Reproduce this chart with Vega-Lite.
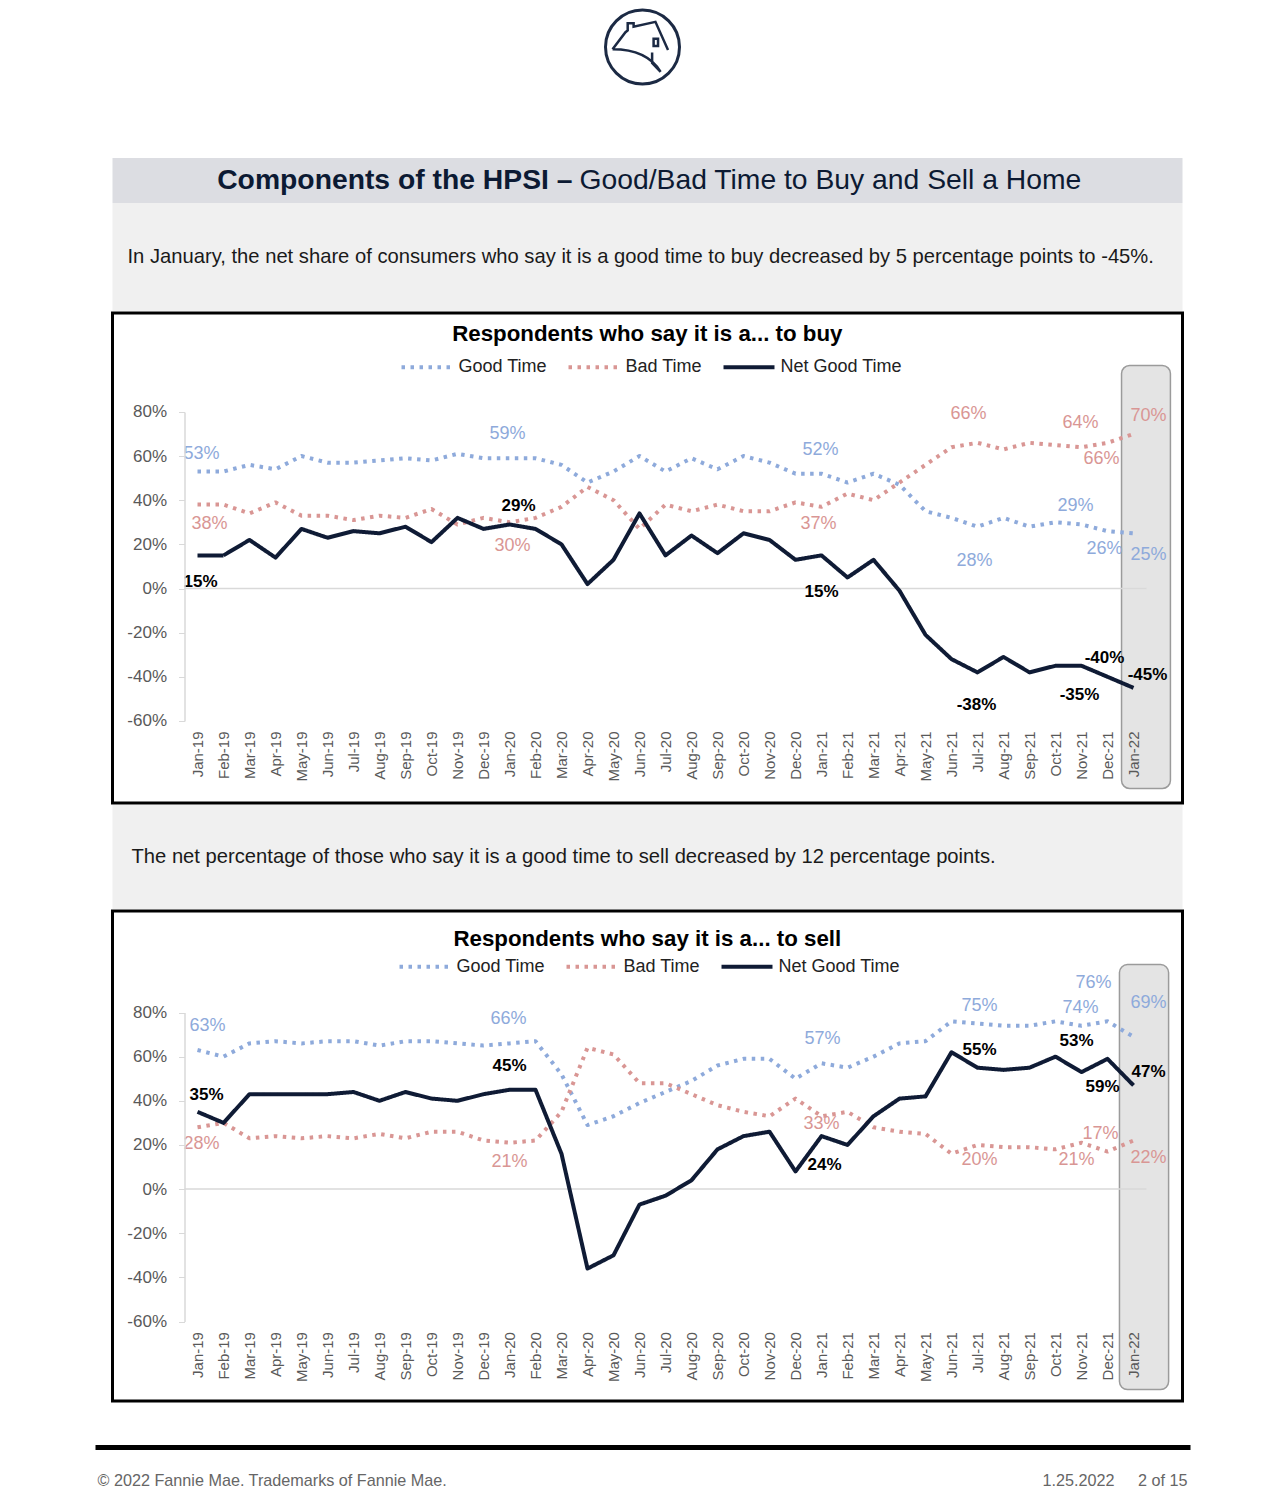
{
"$schema":"https://vega.github.io/schema/vega-lite/v6.json",
"background":"#ffffff",
"padding":{"left":92.5,"right":91.5,"top":0,"bottom":0},
"spacing":0,
"resolve":{"scale":{"color":"independent","strokeDash":"independent"},"legend":{"color":"independent","strokeDash":"independent"}},
"config":{"font":"Liberation Sans","view":{"stroke":null},"text":{"font":"Liberation Sans"},"axis":{"labelOverlap":false}},
"datasets":{
"buy":[
{"month":"Jan-19","i":0,"good":53,"bad":38,"net":15},
{"month":"Feb-19","i":1,"good":53,"bad":38,"net":15},
{"month":"Mar-19","i":2,"good":56,"bad":34,"net":22},
{"month":"Apr-19","i":3,"good":54,"bad":39,"net":14},
{"month":"May-19","i":4,"good":60,"bad":33,"net":27},
{"month":"Jun-19","i":5,"good":57,"bad":33,"net":23},
{"month":"Jul-19","i":6,"good":57,"bad":31,"net":26},
{"month":"Aug-19","i":7,"good":58,"bad":33,"net":25},
{"month":"Sep-19","i":8,"good":59,"bad":32,"net":28},
{"month":"Oct-19","i":9,"good":58,"bad":36,"net":21},
{"month":"Nov-19","i":10,"good":61,"bad":29,"net":32},
{"month":"Dec-19","i":11,"good":59,"bad":32,"net":27},
{"month":"Jan-20","i":12,"good":59,"bad":30,"net":29},
{"month":"Feb-20","i":13,"good":59,"bad":32,"net":27},
{"month":"Mar-20","i":14,"good":56,"bad":37,"net":20},
{"month":"Apr-20","i":15,"good":48,"bad":46,"net":2},
{"month":"May-20","i":16,"good":53,"bad":40,"net":13},
{"month":"Jun-20","i":17,"good":60,"bad":27,"net":34},
{"month":"Jul-20","i":18,"good":53,"bad":38,"net":15},
{"month":"Aug-20","i":19,"good":59,"bad":35,"net":24},
{"month":"Sep-20","i":20,"good":54,"bad":38,"net":16},
{"month":"Oct-20","i":21,"good":60,"bad":35,"net":25},
{"month":"Nov-20","i":22,"good":57,"bad":35,"net":22},
{"month":"Dec-20","i":23,"good":52,"bad":39,"net":13},
{"month":"Jan-21","i":24,"good":52,"bad":37,"net":15},
{"month":"Feb-21","i":25,"good":48,"bad":43,"net":5},
{"month":"Mar-21","i":26,"good":52,"bad":40,"net":13},
{"month":"Apr-21","i":27,"good":47,"bad":48,"net":-1},
{"month":"May-21","i":28,"good":35,"bad":56,"net":-21},
{"month":"Jun-21","i":29,"good":32,"bad":64,"net":-32},
{"month":"Jul-21","i":30,"good":28,"bad":66,"net":-38},
{"month":"Aug-21","i":31,"good":32,"bad":63,"net":-31},
{"month":"Sep-21","i":32,"good":28,"bad":66,"net":-38},
{"month":"Oct-21","i":33,"good":30,"bad":65,"net":-35},
{"month":"Nov-21","i":34,"good":29,"bad":64,"net":-35},
{"month":"Dec-21","i":35,"good":26,"bad":66,"net":-40},
{"month":"Jan-22","i":36,"good":25,"bad":70,"net":-45}
],
"sell":[
{"month":"Jan-19","i":0,"good":63,"bad":28,"net":35},
{"month":"Feb-19","i":1,"good":60,"bad":30,"net":30},
{"month":"Mar-19","i":2,"good":66,"bad":23,"net":43},
{"month":"Apr-19","i":3,"good":67,"bad":24,"net":43},
{"month":"May-19","i":4,"good":66,"bad":23,"net":43},
{"month":"Jun-19","i":5,"good":67,"bad":24,"net":43},
{"month":"Jul-19","i":6,"good":67,"bad":23,"net":44},
{"month":"Aug-19","i":7,"good":65,"bad":25,"net":40},
{"month":"Sep-19","i":8,"good":67,"bad":23,"net":44},
{"month":"Oct-19","i":9,"good":67,"bad":26,"net":41},
{"month":"Nov-19","i":10,"good":66,"bad":26,"net":40},
{"month":"Dec-19","i":11,"good":65,"bad":22,"net":43},
{"month":"Jan-20","i":12,"good":66,"bad":21,"net":45},
{"month":"Feb-20","i":13,"good":67,"bad":22,"net":45},
{"month":"Mar-20","i":14,"good":52,"bad":35,"net":16},
{"month":"Apr-20","i":15,"good":29,"bad":64,"net":-36},
{"month":"May-20","i":16,"good":33,"bad":61,"net":-30},
{"month":"Jun-20","i":17,"good":39,"bad":48,"net":-7},
{"month":"Jul-20","i":18,"good":44,"bad":48,"net":-3},
{"month":"Aug-20","i":19,"good":49,"bad":43,"net":4},
{"month":"Sep-20","i":20,"good":56,"bad":38,"net":18},
{"month":"Oct-20","i":21,"good":59,"bad":35,"net":24},
{"month":"Nov-20","i":22,"good":59,"bad":33,"net":26},
{"month":"Dec-20","i":23,"good":50,"bad":41,"net":8},
{"month":"Jan-21","i":24,"good":57,"bad":33,"net":24},
{"month":"Feb-21","i":25,"good":55,"bad":35,"net":20},
{"month":"Mar-21","i":26,"good":60,"bad":28,"net":33},
{"month":"Apr-21","i":27,"good":66,"bad":26,"net":41},
{"month":"May-21","i":28,"good":67,"bad":25,"net":42},
{"month":"Jun-21","i":29,"good":76,"bad":16,"net":62},
{"month":"Jul-21","i":30,"good":75,"bad":20,"net":55},
{"month":"Aug-21","i":31,"good":74,"bad":19,"net":54},
{"month":"Sep-21","i":32,"good":74,"bad":19,"net":55},
{"month":"Oct-21","i":33,"good":76,"bad":18,"net":60},
{"month":"Nov-21","i":34,"good":74,"bad":21,"net":53},
{"month":"Dec-21","i":35,"good":76,"bad":17,"net":59},
{"month":"Jan-22","i":36,"good":69,"bad":22,"net":47}
]
},
"vconcat":[
{
"width":1070,"height":158,
"data":{"values":[{}]},
"encoding":{
"x":{"datum":530,"type":"quantitative","scale":{"domain":[0,1070],"range":[0,1070],"nice":false,"zero":false},"axis":null},
"y":{"datum":111,"type":"quantitative","scale":{"domain":[0,158],"nice":false,"zero":false},"axis":null}
},
"layer":[
{"mark":{"type":"point","shape":"circle","size":5476,"filled":false,"stroke":"#1c2a44","strokeWidth":3,"opacity":1}},
{"mark":{"type":"point","shape":"M-0.81,0.06L-0.46,-0.4L-0.4,-0.45L-0.4,-0.64L-0.24,-0.64L-0.24,-0.55L0.35,-0.68L0.69,0.08M-0.81,0.06Q0.12,0.06 0.49,0.67M0.26,0.15L0.26,0.43L0.49,0.67M0.3,-0.22L0.42,-0.22L0.42,-0.03L0.3,-0.03Z","size":5476,"filled":false,"stroke":"#1c2a44","strokeWidth":2.5,"opacity":1}}
]
},
{
"width":1070,"height":45,
"view":{"fill":"#dcdde2","stroke":null},
"data":{"values":[{}]},
"layer":[
{"mark":{"type":"text","text":"Components of the HPSI –","align":"right","dx":-75,"fontSize":28.3,"fontWeight":"bold","color":"#0c1a33"},"encoding":{}},
{"mark":{"type":"text","text":"Good/Bad Time to Buy and Sell a Home","align":"left","dx":-68,"fontSize":28.3,"fontWeight":"normal","color":"#0c1a33"},"encoding":{}}
]
},
{
"width":1070,"height":108,
"view":{"fill":"#f0f0f0","stroke":null},
"data":{"values":[{}]},
"mark":{"type":"text","text":"In January, the net share of consumers who say it is a good time to buy decreased by 5 percentage points to -45%.","align":"left","dx":-520,"fontSize":20.2,"color":"#1a1a1a"},
"encoding":{}
},
{
"width":1070,"height":490,
"view":{"fill":"#ffffff","stroke":"#000000","strokeWidth":3},
"layer":[
{"data":{"values":[{}]},"mark":{"type":"rect","fill":"#e4e4e4","stroke":"#9b9b9b","strokeWidth":1.5,"cornerRadius":8},
"encoding":{
"x":{"datum":35.54,"type":"quantitative","scale":{"domain":[-0.5,36.5],"range":[72,1034],"nice":false,"zero":false},
"axis":{"values":[0,1,2,3,4,5,6,7,8,9,10,11,12,13,14,15,16,17,18,19,20,21,22,23,24,25,26,27,28,29,30,31,32,33,34,35,36],"tickCount":37,"labelExpr":"['Jan','Feb','Mar','Apr','May','Jun','Jul','Aug','Sep','Oct','Nov','Dec'][datum.value % 12] + '-' + (19 + floor(datum.value / 12))","title":null,"orient":"bottom","offset":-82.05,"domain":false,"ticks":false,"grid":false,"labelAngle":-90,"labelAlign":"right","labelBaseline":"middle","labelPadding":10,"labelFontSize":15,"labelColor":"#595959","labelOverlap":false,"labelFlush":false,"labelBound":false,"zindex":1}},
"x2":{"datum":37.42},
"y":{"datum":101,"type":"quantitative","scale":{"domain":[-60,80],"range":[407.95,98.9],"nice":false,"zero":false},
"axis":{"values":[-60,-40,-20,0,20,40,60,80],"labelExpr":"datum.value + '%'","title":null,"orient":"left","offset":-72,"domain":true,"domainColor":"#d9d9d9","domainWidth":1.5,"ticks":true,"tickColor":"#d9d9d9","tickSize":6,"grid":false,"labelFontSize":17,"labelColor":"#595959","labelPadding":12,"labelFlush":false,"labelOverlap":false,"zindex":1}},
"y2":{"datum":-90.6}}},
{"data":{"values":[{}]},"mark":{"type":"rule","color":"#d9d9d9","strokeWidth":1.5},
"encoding":{
"x":{"datum":-0.5,"type":"quantitative",
"axis":{"values":[0,1,2,3,4,5,6,7,8,9,10,11,12,13,14,15,16,17,18,19,20,21,22,23,24,25,26,27,28,29,30,31,32,33,34,35,36],"tickCount":37,"labelExpr":"['Jan','Feb','Mar','Apr','May','Jun','Jul','Aug','Sep','Oct','Nov','Dec'][datum.value % 12] + '-' + (19 + floor(datum.value / 12))","title":null,"orient":"bottom","offset":-82.05,"domain":false,"ticks":false,"grid":false,"labelAngle":-90,"labelAlign":"right","labelBaseline":"middle","labelPadding":10,"labelFontSize":15,"labelColor":"#595959","labelOverlap":false,"labelFlush":false,"labelBound":false,"zindex":1}},
"x2":{"datum":36.5},
"y":{"datum":0,"type":"quantitative",
"axis":{"values":[-60,-40,-20,0,20,40,60,80],"labelExpr":"datum.value + '%'","title":null,"orient":"left","offset":-72,"domain":true,"domainColor":"#d9d9d9","domainWidth":1.5,"ticks":true,"tickColor":"#d9d9d9","tickSize":6,"grid":false,"labelFontSize":17,"labelColor":"#595959","labelPadding":12,"labelFlush":false,"labelOverlap":false,"zindex":1}}}},
{"data":{"values":[{}]},"mark":{"type":"text","text":"Respondents who say it is a... to buy","fontSize":22.3,"fontWeight":"bold","color":"#000000"},
"encoding":{
"x":{"datum":17.3,"type":"quantitative",
"axis":{"values":[0,1,2,3,4,5,6,7,8,9,10,11,12,13,14,15,16,17,18,19,20,21,22,23,24,25,26,27,28,29,30,31,32,33,34,35,36],"tickCount":37,"labelExpr":"['Jan','Feb','Mar','Apr','May','Jun','Jul','Aug','Sep','Oct','Nov','Dec'][datum.value % 12] + '-' + (19 + floor(datum.value / 12))","title":null,"orient":"bottom","offset":-82.05,"domain":false,"ticks":false,"grid":false,"labelAngle":-90,"labelAlign":"right","labelBaseline":"middle","labelPadding":10,"labelFontSize":15,"labelColor":"#595959","labelOverlap":false,"labelFlush":false,"labelBound":false,"zindex":1}},
"y":{"datum":115.5,"type":"quantitative",
"axis":{"values":[-60,-40,-20,0,20,40,60,80],"labelExpr":"datum.value + '%'","title":null,"orient":"left","offset":-72,"domain":true,"domainColor":"#d9d9d9","domainWidth":1.5,"ticks":true,"tickColor":"#d9d9d9","tickSize":6,"grid":false,"labelFontSize":17,"labelColor":"#595959","labelPadding":12,"labelFlush":false,"labelOverlap":false,"zindex":1}}}},
{
"data":{"name":"buy"},
"transform":[{"fold":["good","bad","net"],"as":["series","value"]},{"calculate":"datum.value + '%'","as":"label"}],
"encoding":{
"x":{"field":"i","type":"quantitative","scale":{"domain":[-0.5,36.5],"range":[72,1034],"nice":false,"zero":false},
"axis":{"values":[0,1,2,3,4,5,6,7,8,9,10,11,12,13,14,15,16,17,18,19,20,21,22,23,24,25,26,27,28,29,30,31,32,33,34,35,36],"tickCount":37,"labelExpr":"['Jan','Feb','Mar','Apr','May','Jun','Jul','Aug','Sep','Oct','Nov','Dec'][datum.value % 12] + '-' + (19 + floor(datum.value / 12))","title":null,"orient":"bottom","offset":-82.05,"domain":false,"ticks":false,"grid":false,"labelAngle":-90,"labelAlign":"right","labelBaseline":"middle","labelPadding":10,"labelFontSize":15,"labelColor":"#595959","labelOverlap":false,"labelFlush":false,"labelBound":false,"zindex":1}},
"y":{"field":"value","type":"quantitative","scale":{"domain":[-60,80],"range":[407.95,98.9],"nice":false,"zero":false},
"axis":{"values":[-60,-40,-20,0,20,40,60,80],"labelExpr":"datum.value + '%'","title":null,"orient":"left","offset":-72,"domain":true,"domainColor":"#d9d9d9","domainWidth":1.5,"ticks":true,"tickColor":"#d9d9d9","tickSize":6,"grid":false,"labelFontSize":17,"labelColor":"#595959","labelPadding":12,"labelFlush":false,"labelOverlap":false,"zindex":1}}
},
"layer":[
{"mark":{"type":"line","strokeWidth":4,"strokeCap":"butt","strokeJoin":"round"},
"encoding":{
"color":{"field":"series","type":"nominal","scale":{"domain":["good","bad","net"],"range":["#8eaadb","#d99694","#0f1b35"]},
"legend":{"orient":"none","legendX":287,"legendY":26.5,"direction":"horizontal","title":null,"symbolType":"stroke","symbolSize":2600,"symbolStrokeWidth":4,"labelFontSize":18,"labelColor":"#222222","labelOffset":4,"columnPadding":13,"labelExpr":"datum.label=='good' ? 'Good Time' : datum.label=='bad' ? 'Bad Time' : 'Net Good Time'"}},
"strokeDash":{"field":"series","type":"nominal","scale":{"domain":["good","bad","net"],"range":[[3.5,5.5],[3.5,5.5],[1,0]]}}
}},
{"transform":[{"filter":"datum.series=='good' && datum.i==0"}],"mark":{"type":"text","dx":4,"dy":-18,"fontSize":18,"color":"#8eaadb"},"encoding":{"text":{"field":"label"}}},
{"transform":[{"filter":"datum.series=='good' && datum.i==12"}],"mark":{"type":"text","dx":-2,"dy":-24,"fontSize":18,"color":"#8eaadb"},"encoding":{"text":{"field":"label"}}},
{"transform":[{"filter":"datum.series=='good' && datum.i==24"}],"mark":{"type":"text","dx":-1,"dy":-24,"fontSize":18,"color":"#8eaadb"},"encoding":{"text":{"field":"label"}}},
{"transform":[{"filter":"datum.series=='good' && datum.i==30"}],"mark":{"type":"text","dx":-3,"dy":34,"fontSize":18,"color":"#8eaadb"},"encoding":{"text":{"field":"label"}}},
{"transform":[{"filter":"datum.series=='good' && datum.i==34"}],"mark":{"type":"text","dx":-6,"dy":-18,"fontSize":18,"color":"#8eaadb"},"encoding":{"text":{"field":"label"}}},
{"transform":[{"filter":"datum.series=='good' && datum.i==35"}],"mark":{"type":"text","dx":-3,"dy":18,"fontSize":18,"color":"#8eaadb"},"encoding":{"text":{"field":"label"}}},
{"transform":[{"filter":"datum.series=='good' && datum.i==36"}],"mark":{"type":"text","dx":15,"dy":22,"fontSize":18,"color":"#8eaadb"},"encoding":{"text":{"field":"label"}}},
{"transform":[{"filter":"datum.series=='bad' && datum.i==0"}],"mark":{"type":"text","dx":12,"dy":19,"fontSize":18,"color":"#d99694"},"encoding":{"text":{"field":"label"}}},
{"transform":[{"filter":"datum.series=='bad' && datum.i==12"}],"mark":{"type":"text","dx":3,"dy":24,"fontSize":18,"color":"#d99694"},"encoding":{"text":{"field":"label"}}},
{"transform":[{"filter":"datum.series=='bad' && datum.i==24"}],"mark":{"type":"text","dx":-3,"dy":17,"fontSize":18,"color":"#d99694"},"encoding":{"text":{"field":"label"}}},
{"transform":[{"filter":"datum.series=='bad' && datum.i==30"}],"mark":{"type":"text","dx":-9,"dy":-29,"fontSize":18,"color":"#d99694"},"encoding":{"text":{"field":"label"}}},
{"transform":[{"filter":"datum.series=='bad' && datum.i==34"}],"mark":{"type":"text","dx":-1,"dy":-24,"fontSize":18,"color":"#d99694"},"encoding":{"text":{"field":"label"}}},
{"transform":[{"filter":"datum.series=='bad' && datum.i==35"}],"mark":{"type":"text","dx":-6,"dy":16,"fontSize":18,"color":"#d99694"},"encoding":{"text":{"field":"label"}}},
{"transform":[{"filter":"datum.series=='bad' && datum.i==36"}],"mark":{"type":"text","dx":15,"dy":-18,"fontSize":18,"color":"#d99694"},"encoding":{"text":{"field":"label"}}},
{"transform":[{"filter":"datum.series=='net' && datum.i==0"}],"mark":{"type":"text","dx":3,"dy":27,"fontSize":17,"fontWeight":"bold","color":"#000000"},"encoding":{"text":{"field":"label"}}},
{"transform":[{"filter":"datum.series=='net' && datum.i==12"}],"mark":{"type":"text","dx":9,"dy":-18,"fontSize":17,"fontWeight":"bold","color":"#000000"},"encoding":{"text":{"field":"label"}}},
{"transform":[{"filter":"datum.series=='net' && datum.i==24"}],"mark":{"type":"text","dx":0,"dy":37,"fontSize":17,"fontWeight":"bold","color":"#000000"},"encoding":{"text":{"field":"label"}}},
{"transform":[{"filter":"datum.series=='net' && datum.i==30"}],"mark":{"type":"text","dx":-1,"dy":33,"fontSize":17,"fontWeight":"bold","color":"#000000"},"encoding":{"text":{"field":"label"}}},
{"transform":[{"filter":"datum.series=='net' && datum.i==34"}],"mark":{"type":"text","dx":-2,"dy":29,"fontSize":17,"fontWeight":"bold","color":"#000000"},"encoding":{"text":{"field":"label"}}},
{"transform":[{"filter":"datum.series=='net' && datum.i==35"}],"mark":{"type":"text","dx":-3,"dy":-19,"fontSize":17,"fontWeight":"bold","color":"#000000"},"encoding":{"text":{"field":"label"}}},
{"transform":[{"filter":"datum.series=='net' && datum.i==36"}],"mark":{"type":"text","dx":14,"dy":-13,"fontSize":17,"fontWeight":"bold","color":"#000000"},"encoding":{"text":{"field":"label"}}}
]
}
]
},
{
"width":1070,"height":104,
"view":{"fill":"#f0f0f0","stroke":null},
"data":{"values":[{}]},
"mark":{"type":"text","text":"The net percentage of those who say it is a good time to sell decreased by 12 percentage points.","align":"left","dx":-516,"fontSize":20.2,"color":"#1a1a1a"},
"encoding":{}
},
{
"width":1070,"height":490,
"view":{"fill":"#ffffff","stroke":"#000000","strokeWidth":3},
"layer":[
{"data":{"values":[{}]},"mark":{"type":"rect","fill":"#e4e4e4","stroke":"#9b9b9b","strokeWidth":1.5,"cornerRadius":8},
"encoding":{
"x":{"datum":35.46,"type":"quantitative","scale":{"domain":[-0.5,36.5],"range":[72,1034],"nice":false,"zero":false},
"axis":{"values":[0,1,2,3,4,5,6,7,8,9,10,11,12,13,14,15,16,17,18,19,20,21,22,23,24,25,26,27,28,29,30,31,32,33,34,35,36],"tickCount":37,"labelExpr":"['Jan','Feb','Mar','Apr','May','Jun','Jul','Aug','Sep','Oct','Nov','Dec'][datum.value % 12] + '-' + (19 + floor(datum.value / 12))","title":null,"orient":"bottom","offset":-79.45,"domain":false,"ticks":false,"grid":false,"labelAngle":-90,"labelAlign":"right","labelBaseline":"middle","labelPadding":10,"labelFontSize":15,"labelColor":"#595959","labelOverlap":false,"labelFlush":false,"labelBound":false,"zindex":1}},
"x2":{"datum":37.35},
"y":{"datum":101.7,"type":"quantitative","scale":{"domain":[-60,80],"range":[410.55,101.5],"nice":false,"zero":false},
"axis":{"values":[-60,-40,-20,0,20,40,60,80],"labelExpr":"datum.value + '%'","title":null,"orient":"left","offset":-72,"domain":true,"domainColor":"#d9d9d9","domainWidth":1.5,"ticks":true,"tickColor":"#d9d9d9","tickSize":6,"grid":false,"labelFontSize":17,"labelColor":"#595959","labelPadding":12,"labelFlush":false,"labelOverlap":false,"zindex":1}},
"y2":{"datum":-90.8}}},
{"data":{"values":[{}]},"mark":{"type":"rule","color":"#d9d9d9","strokeWidth":1.5},
"encoding":{
"x":{"datum":-0.5,"type":"quantitative",
"axis":{"values":[0,1,2,3,4,5,6,7,8,9,10,11,12,13,14,15,16,17,18,19,20,21,22,23,24,25,26,27,28,29,30,31,32,33,34,35,36],"tickCount":37,"labelExpr":"['Jan','Feb','Mar','Apr','May','Jun','Jul','Aug','Sep','Oct','Nov','Dec'][datum.value % 12] + '-' + (19 + floor(datum.value / 12))","title":null,"orient":"bottom","offset":-79.45,"domain":false,"ticks":false,"grid":false,"labelAngle":-90,"labelAlign":"right","labelBaseline":"middle","labelPadding":10,"labelFontSize":15,"labelColor":"#595959","labelOverlap":false,"labelFlush":false,"labelBound":false,"zindex":1}},
"x2":{"datum":36.5},
"y":{"datum":0,"type":"quantitative",
"axis":{"values":[-60,-40,-20,0,20,40,60,80],"labelExpr":"datum.value + '%'","title":null,"orient":"left","offset":-72,"domain":true,"domainColor":"#d9d9d9","domainWidth":1.5,"ticks":true,"tickColor":"#d9d9d9","tickSize":6,"grid":false,"labelFontSize":17,"labelColor":"#595959","labelPadding":12,"labelFlush":false,"labelOverlap":false,"zindex":1}}}},
{"data":{"values":[{}]},"mark":{"type":"text","text":"Respondents who say it is a... to sell","fontSize":22.3,"fontWeight":"bold","color":"#000000"},
"encoding":{
"x":{"datum":17.3,"type":"quantitative",
"axis":{"values":[0,1,2,3,4,5,6,7,8,9,10,11,12,13,14,15,16,17,18,19,20,21,22,23,24,25,26,27,28,29,30,31,32,33,34,35,36],"tickCount":37,"labelExpr":"['Jan','Feb','Mar','Apr','May','Jun','Jul','Aug','Sep','Oct','Nov','Dec'][datum.value % 12] + '-' + (19 + floor(datum.value / 12))","title":null,"orient":"bottom","offset":-79.45,"domain":false,"ticks":false,"grid":false,"labelAngle":-90,"labelAlign":"right","labelBaseline":"middle","labelPadding":10,"labelFontSize":15,"labelColor":"#595959","labelOverlap":false,"labelFlush":false,"labelBound":false,"zindex":1}},
"y":{"datum":113.5,"type":"quantitative",
"axis":{"values":[-60,-40,-20,0,20,40,60,80],"labelExpr":"datum.value + '%'","title":null,"orient":"left","offset":-72,"domain":true,"domainColor":"#d9d9d9","domainWidth":1.5,"ticks":true,"tickColor":"#d9d9d9","tickSize":6,"grid":false,"labelFontSize":17,"labelColor":"#595959","labelPadding":12,"labelFlush":false,"labelOverlap":false,"zindex":1}}}},
{
"data":{"name":"sell"},
"transform":[{"fold":["good","bad","net"],"as":["series","value"]},{"calculate":"datum.value + '%'","as":"label"}],
"encoding":{
"x":{"field":"i","type":"quantitative","scale":{"domain":[-0.5,36.5],"range":[72,1034],"nice":false,"zero":false},
"axis":{"values":[0,1,2,3,4,5,6,7,8,9,10,11,12,13,14,15,16,17,18,19,20,21,22,23,24,25,26,27,28,29,30,31,32,33,34,35,36],"tickCount":37,"labelExpr":"['Jan','Feb','Mar','Apr','May','Jun','Jul','Aug','Sep','Oct','Nov','Dec'][datum.value % 12] + '-' + (19 + floor(datum.value / 12))","title":null,"orient":"bottom","offset":-79.45,"domain":false,"ticks":false,"grid":false,"labelAngle":-90,"labelAlign":"right","labelBaseline":"middle","labelPadding":10,"labelFontSize":15,"labelColor":"#595959","labelOverlap":false,"labelFlush":false,"labelBound":false,"zindex":1}},
"y":{"field":"value","type":"quantitative","scale":{"domain":[-60,80],"range":[410.55,101.5],"nice":false,"zero":false},
"axis":{"values":[-60,-40,-20,0,20,40,60,80],"labelExpr":"datum.value + '%'","title":null,"orient":"left","offset":-72,"domain":true,"domainColor":"#d9d9d9","domainWidth":1.5,"ticks":true,"tickColor":"#d9d9d9","tickSize":6,"grid":false,"labelFontSize":17,"labelColor":"#595959","labelPadding":12,"labelFlush":false,"labelOverlap":false,"zindex":1}}
},
"layer":[
{"mark":{"type":"line","strokeWidth":4,"strokeCap":"butt","strokeJoin":"round"},
"encoding":{
"color":{"field":"series","type":"nominal","scale":{"domain":["good","bad","net"],"range":["#8eaadb","#d99694","#0f1b35"]},
"legend":{"orient":"none","legendX":285,"legendY":28,"direction":"horizontal","title":null,"symbolType":"stroke","symbolSize":2600,"symbolStrokeWidth":4,"labelFontSize":18,"labelColor":"#222222","labelOffset":4,"columnPadding":13,"labelExpr":"datum.label=='good' ? 'Good Time' : datum.label=='bad' ? 'Bad Time' : 'Net Good Time'"}},
"strokeDash":{"field":"series","type":"nominal","scale":{"domain":["good","bad","net"],"range":[[3.5,5.5],[3.5,5.5],[1,0]]}}
}},
{"transform":[{"filter":"datum.series=='good' && datum.i==0"}],"mark":{"type":"text","dx":10,"dy":-24,"fontSize":18,"color":"#8eaadb"},"encoding":{"text":{"field":"label"}}},
{"transform":[{"filter":"datum.series=='good' && datum.i==12"}],"mark":{"type":"text","dx":-1,"dy":-24,"fontSize":18,"color":"#8eaadb"},"encoding":{"text":{"field":"label"}}},
{"transform":[{"filter":"datum.series=='good' && datum.i==24"}],"mark":{"type":"text","dx":1,"dy":-24,"fontSize":18,"color":"#8eaadb"},"encoding":{"text":{"field":"label"}}},
{"transform":[{"filter":"datum.series=='good' && datum.i==30"}],"mark":{"type":"text","dx":2,"dy":-18,"fontSize":18,"color":"#8eaadb"},"encoding":{"text":{"field":"label"}}},
{"transform":[{"filter":"datum.series=='good' && datum.i==34"}],"mark":{"type":"text","dx":-1,"dy":-18,"fontSize":18,"color":"#8eaadb"},"encoding":{"text":{"field":"label"}}},
{"transform":[{"filter":"datum.series=='good' && datum.i==35"}],"mark":{"type":"text","dx":-14,"dy":-38,"fontSize":18,"color":"#8eaadb"},"encoding":{"text":{"field":"label"}}},
{"transform":[{"filter":"datum.series=='good' && datum.i==36"}],"mark":{"type":"text","dx":15,"dy":-34,"fontSize":18,"color":"#8eaadb"},"encoding":{"text":{"field":"label"}}},
{"transform":[{"filter":"datum.series=='bad' && datum.i==0"}],"mark":{"type":"text","dx":4,"dy":17,"fontSize":18,"color":"#d99694"},"encoding":{"text":{"field":"label"}}},
{"transform":[{"filter":"datum.series=='bad' && datum.i==12"}],"mark":{"type":"text","dx":0,"dy":19,"fontSize":18,"color":"#d99694"},"encoding":{"text":{"field":"label"}}},
{"transform":[{"filter":"datum.series=='bad' && datum.i==24"}],"mark":{"type":"text","dx":0,"dy":8,"fontSize":18,"color":"#d99694"},"encoding":{"text":{"field":"label"}}},
{"transform":[{"filter":"datum.series=='bad' && datum.i==30"}],"mark":{"type":"text","dx":2,"dy":15,"fontSize":18,"color":"#d99694"},"encoding":{"text":{"field":"label"}}},
{"transform":[{"filter":"datum.series=='bad' && datum.i==34"}],"mark":{"type":"text","dx":-5,"dy":17,"fontSize":18,"color":"#d99694"},"encoding":{"text":{"field":"label"}}},
{"transform":[{"filter":"datum.series=='bad' && datum.i==35"}],"mark":{"type":"text","dx":-7,"dy":-18,"fontSize":18,"color":"#d99694"},"encoding":{"text":{"field":"label"}}},
{"transform":[{"filter":"datum.series=='bad' && datum.i==36"}],"mark":{"type":"text","dx":15,"dy":17,"fontSize":18,"color":"#d99694"},"encoding":{"text":{"field":"label"}}},
{"transform":[{"filter":"datum.series=='net' && datum.i==0"}],"mark":{"type":"text","dx":9,"dy":-17,"fontSize":17,"fontWeight":"bold","color":"#000000"},"encoding":{"text":{"field":"label"}}},
{"transform":[{"filter":"datum.series=='net' && datum.i==12"}],"mark":{"type":"text","dx":0,"dy":-24,"fontSize":17,"fontWeight":"bold","color":"#000000"},"encoding":{"text":{"field":"label"}}},
{"transform":[{"filter":"datum.series=='net' && datum.i==24"}],"mark":{"type":"text","dx":3,"dy":29,"fontSize":17,"fontWeight":"bold","color":"#000000"},"encoding":{"text":{"field":"label"}}},
{"transform":[{"filter":"datum.series=='net' && datum.i==30"}],"mark":{"type":"text","dx":2,"dy":-18,"fontSize":17,"fontWeight":"bold","color":"#000000"},"encoding":{"text":{"field":"label"}}},
{"transform":[{"filter":"datum.series=='net' && datum.i==34"}],"mark":{"type":"text","dx":-5,"dy":-31,"fontSize":17,"fontWeight":"bold","color":"#000000"},"encoding":{"text":{"field":"label"}}},
{"transform":[{"filter":"datum.series=='net' && datum.i==35"}],"mark":{"type":"text","dx":-5,"dy":28,"fontSize":17,"fontWeight":"bold","color":"#000000"},"encoding":{"text":{"field":"label"}}},
{"transform":[{"filter":"datum.series=='net' && datum.i==36"}],"mark":{"type":"text","dx":15,"dy":-13,"fontSize":17,"fontWeight":"bold","color":"#000000"},"encoding":{"text":{"field":"label"}}}
]
}
]
},
{
"width":1070,"height":105,
"data":{"values":[{}]},
"layer":[
{"mark":{"type":"rule","color":"#000000","strokeWidth":5},
"encoding":{"x":{"datum":-17,"type":"quantitative","scale":{"domain":[0,1070],"range":[0,1070],"nice":false,"zero":false},"axis":null},"x2":{"datum":1078},
"y":{"datum":60.5,"type":"quantitative","scale":{"domain":[0,105],"nice":false,"zero":false},"axis":null}}},
{"mark":{"type":"text","text":"© 2022 Fannie Mae. Trademarks of Fannie Mae.","align":"left","fontSize":16.2,"color":"#666666"},
"encoding":{"x":{"datum":-15,"type":"quantitative"},"y":{"datum":27,"type":"quantitative"}}},
{"mark":{"type":"text","text":"1.25.2022","align":"right","fontSize":16.2,"color":"#666666"},
"encoding":{"x":{"datum":1002,"type":"quantitative"},"y":{"datum":27,"type":"quantitative"}}},
{"mark":{"type":"text","text":"2 of 15","align":"right","fontSize":16.2,"color":"#666666"},
"encoding":{"x":{"datum":1075,"type":"quantitative"},"y":{"datum":27,"type":"quantitative"}}}
]
}
]
}
